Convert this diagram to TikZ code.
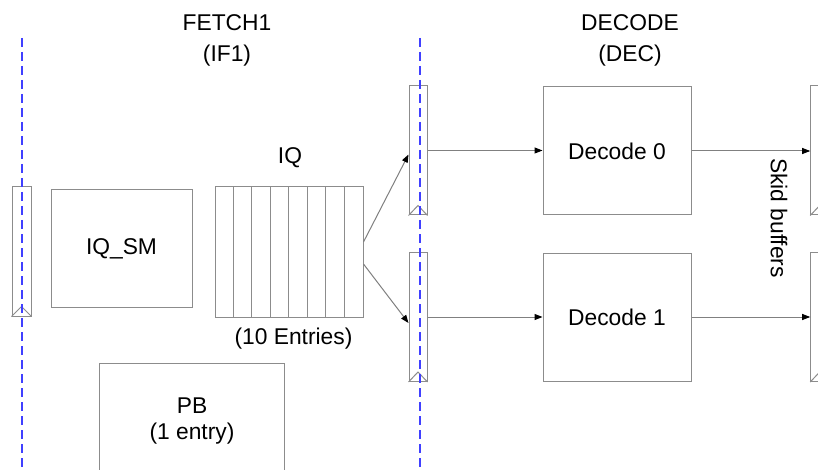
\documentclass[tikz,border=0pt]{standalone}
\usepackage{fontspec}
\setmainfont{Liberation Sans}
\usetikzlibrary{arrows.meta,calc}

\tikzset{
  box/.style={draw=black!45, line width=1pt, inner sep=0pt},
  regbox/.style={box, minimum width=18pt, minimum height=129pt},
  conn/.style={draw=black!50, line width=1pt, -{Triangle[length=8pt,width=6pt,fill=black,color=black]}},
  stage/.style={draw=blue!75!white, line width=1.5pt, dash pattern=on 9pt off 5pt},
  lbl/.style={font=\fontsize{22.8pt}{27pt}\selectfont, inner sep=0pt, align=center},
}

% clock mark at the foot of a pipeline register
\newcommand{\clockmark}[1]{%
  \draw[black!45, line width=1pt] (#1.south west) -- ([yshift=10pt]#1.south) -- (#1.south east);}

\begin{document}
\begin{tikzpicture}[x=1pt, y=-1pt]
\useasboundingbox (0,0) rectangle (818,470);
\fill[white] (0,0) rectangle (818,470);

% stage titles
\node[lbl] (fetchT) at (227,23) {FETCH1};
\node[lbl] (fetchS) at (227,56) {(IF1)};
\node[lbl] (decT) at (630,23) {DECODE};
\node[lbl] (decS) at (630,56) {(DEC)};

% fetch-side register
\node[regbox, minimum width=19pt] (regL) at (21.5,251.5) {};
\clockmark{regL}

% instruction queue state machine
\node[box, minimum width=141pt, minimum height=117pt] (iqsm) at (121.5,248.5) {};
\node[lbl] at (iqsm.center) {IQ\_SM};

% instruction queue with its entries
\node[box, minimum width=148pt, minimum height=130pt] (iq) at (289,252) {};
\foreach \k in {1,...,7}
  \draw[black!45, line width=1pt] ($(iq.north west)+(\k*18.5,0)$) -- ($(iq.south west)+(\k*18.5,0)$);
\node[lbl] (iqT) at (290,158) {IQ};
\node[lbl] (iqN) at (293.5,339) {(10 Entries)};

% prefetch buffer
\node[box, minimum width=185pt, minimum height=130pt] (pb) at (192,428) {};
\node[lbl] (pbT) at (192,406) {PB};
\node[lbl] (pbN) at (192,434) {(1 entry)};

% IF1/DEC registers
\node[regbox] (regA) at (418,150.5) {};
\clockmark{regA}
\node[regbox] (regB) at (418,317) {};
\clockmark{regB}

% decoders
\node[box, minimum width=148pt, minimum height=128pt] (dec0) at (617,151) {};
\node[lbl] at (dec0.center) {Decode 0};
\node[box, minimum width=148pt, minimum height=128pt] (dec1) at (617,317) {};
\node[lbl] at (dec1.center) {Decode 1};

% skid buffers
\node[regbox] (regRA) at (819.7,150.5) {};
\clockmark{regRA}
\node[regbox] (regRB) at (819.7,317) {};
\clockmark{regRB}
\node[lbl, rotate=-90] (skid) at (779,218) {Skid buffers};

% data paths
\draw[conn] ([yshift=10pt]iq.east) -- ([yshift=-4pt]regA.west);
\draw[conn] ([yshift=-12pt]iq.east) -- ([yshift=-6pt]regB.west);
\draw[conn] (regA.east) -- (regA.east -| dec0.west);
\draw[conn] (regB.east) -- (regB.east -| dec1.west);
\draw[conn] (dec0.east) -- (dec0.east -| regRA.west);
\draw[conn] (dec1.east) -- (dec1.east -| regRB.west);

% pipeline stage boundaries
\coordinate (b1top) at (22,38);
\coordinate (b1bot) at (22,470);
\coordinate (b2top) at (420,38);
\coordinate (b2bot) at (420,470);
\draw[stage] (b1top) -- (b1bot);
\draw[stage] (b2top) -- (b2bot);
\end{tikzpicture}
\end{document}
